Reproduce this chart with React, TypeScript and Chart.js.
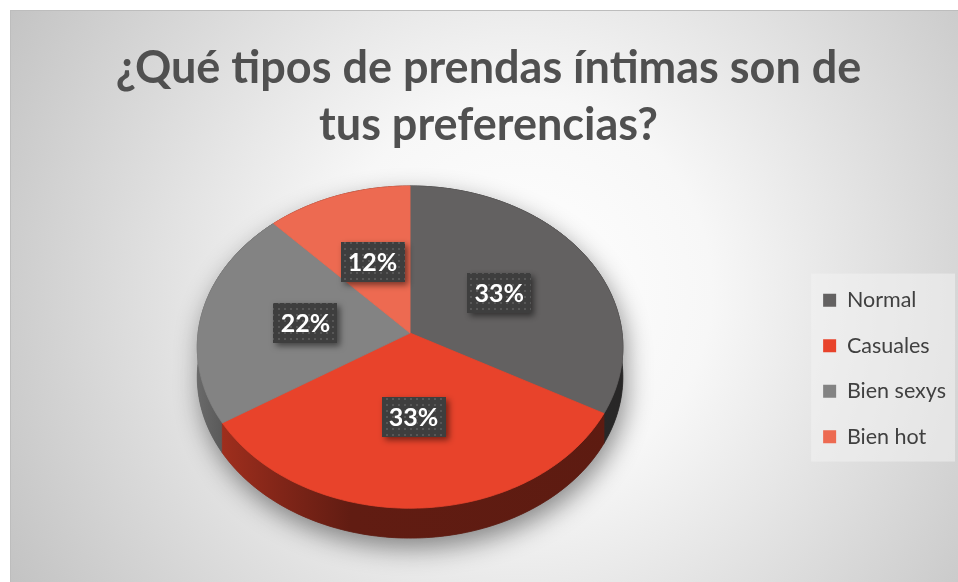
import React, { useEffect, useRef } from 'react';
import { Chart, registerables } from 'chart.js';

Chart.register(...registerables);

// ---- data ----
const categories = ['Normal', 'Casuales', 'Bien sexys', 'Bien hot'];
const values = [33, 33, 22, 12];
const sliceColors = ['#636161', '#e8432b', '#838383', '#ed6a51'];
const titleLines = ['¿Qué tipos de prendas íntimas son de', 'tus preferencias?'];

// ---- 3D look (relative to the library's computed radius) ----
const TILT = { ax: 0.993, by: 0.749, persp: 0.087, lift: 0.166, depth: 0.14 };

function hexToRgb(hex: string) {
  const h = hex.replace('#', '');
  return [parseInt(h.slice(0, 2), 16), parseInt(h.slice(2, 4), 16), parseInt(h.slice(4, 6), 16)];
}
function shade(hex: string, f: number) {
  const [r, g, b] = hexToRgb(hex);
  return `rgb(${Math.round(r * f)},${Math.round(g * f)},${Math.round(b * f)})`;
}

type Geo = { cx: number; cy: number; A: number; B: number; b: number; T: number };
function geom(arc: any): Geo {
  const R = arc.outerRadius;
  return { cx: arc.x, cy: arc.y - TILT.lift * R, A: R * TILT.ax, B: R * TILT.by, b: TILT.persp, T: R * TILT.depth };
}
function P(g: Geo, ang: number, rho = 1): [number, number] {
  const u = Math.cos(ang) * rho;
  const v = Math.sin(ang) * rho;
  const d = 1 - g.b * v;
  return [g.cx + (g.A * u) / d, g.cy + (g.B * v) / d];
}

let patternCache: CanvasPattern | null = null;
function labelPattern(ctx: CanvasRenderingContext2D) {
  if (patternCache) return patternCache;
  const c = document.createElement('canvas');
  c.width = 6;
  c.height = 6;
  const x = c.getContext('2d')!;
  x.fillStyle = '#3e3e3e';
  x.fillRect(0, 0, 6, 6);
  x.fillStyle = '#575757';
  x.fillRect(2, 2, 2, 2);
  patternCache = ctx.createPattern(c, 'repeat');
  return patternCache;
}

const pie3d = {
  id: 'pie3d',
  beforeDraw(chart: any) {
    const { ctx, width, height } = chart;
    ctx.save();
    ctx.fillStyle = '#ffffff';
    ctx.fillRect(0, 0, width, height);
    const fx = 10;
    const fy = 10;
    const grad = ctx.createRadialGradient(520, 290, 0, 520, 290, 640);
    grad.addColorStop(0, '#ffffff');
    grad.addColorStop(0.3, '#f7f7f7');
    grad.addColorStop(1, '#bcbcbc');
    ctx.fillStyle = grad;
    ctx.fillRect(fx, fy, width - fx, height - fy);
    ctx.strokeStyle = '#bdbdbd';
    ctx.lineWidth = 1;
    ctx.strokeRect(fx + 0.5, fy + 0.5, width - fx, height - fy);

    const lg = chart.legend;
    const hb = lg && lg.legendHitBoxes;
    if (hb && hb.length) {
      let right = 0;
      hb.forEach((h: any) => (right = Math.max(right, h.left + h.width)));
      const l = hb[0].left - 12;
      const t = hb[0].top - 16;
      const last = hb[hb.length - 1];
      const b = last.top + last.height + 14;
      ctx.fillStyle = 'rgba(242,242,242,0.55)';
      ctx.fillRect(l, t, Math.min(right + 9, width - 3) - l, b - t);
    }
    ctx.restore();
  },
  beforeDatasetsDraw(chart: any) {
    const meta = chart.getDatasetMeta(0);
    const arcs = meta.data;
    if (!arcs.length) return false;
    const g = geom(arcs[0]);
    const ctx: CanvasRenderingContext2D = chart.ctx;
    const N = 160;
    ctx.save();

    // soft shadow of the whole body
    ctx.beginPath();
    for (let i = 0; i <= N; i++) {
      const a = Math.PI + (Math.PI * i) / N;
      const [x, y] = P(g, a);
      if (i === 0) ctx.moveTo(x, y);
      else ctx.lineTo(x, y);
    }
    for (let i = 0; i <= N; i++) {
      const a = (Math.PI * i) / N;
      const [x, y] = P(g, a);
      ctx.lineTo(x, y + g.T);
    }
    ctx.closePath();
    ctx.shadowColor = 'rgba(0,0,0,0.45)';
    ctx.shadowBlur = 26;
    ctx.shadowOffsetX = 3;
    ctx.shadowOffsetY = 10;
    ctx.fillStyle = '#555555';
    ctx.fill();
    ctx.shadowColor = 'rgba(0,0,0,0)';
    ctx.shadowBlur = 0;
    ctx.shadowOffsetX = 0;
    ctx.shadowOffsetY = 0;

    const mid = (a: any) => (a.startAngle + a.endAngle) / 2;
    const order = arcs.map((_: any, i: number) => i).sort((i: number, j: number) => Math.sin(mid(arcs[i])) - Math.sin(mid(arcs[j])));

    // side walls
    for (const i of order) {
      const a = arcs[i];
      const col = a.options.backgroundColor as string;
      const s = a.startAngle;
      const e = a.endAngle;
      const steps = Math.max(8, Math.ceil(((e - s) / (2 * Math.PI)) * N * 2));
      const gr = ctx.createLinearGradient(g.cx - g.A, 0, g.cx + g.A, 0);
      gr.addColorStop(0, shade(col, 0.8));
      gr.addColorStop(0.06, shade(col, 0.68));
      gr.addColorStop(0.2, shade(col, 0.55));
      gr.addColorStop(0.36, shade(col, 0.42));
      gr.addColorStop(1, shade(col, 0.4));
      ctx.beginPath();
      for (let k = 0; k <= steps; k++) {
        const ang = s + ((e - s) * k) / steps;
        const [x, y] = P(g, ang);
        if (k === 0) ctx.moveTo(x, y);
        else ctx.lineTo(x, y);
      }
      for (let k = steps; k >= 0; k--) {
        const ang = s + ((e - s) * k) / steps;
        const [x, y] = P(g, ang);
        ctx.lineTo(x, y + g.T);
      }
      ctx.closePath();
      ctx.fillStyle = gr;
      ctx.fill();
      ctx.strokeStyle = gr;
      ctx.lineWidth = 0.8;
      ctx.stroke();
    }

    // top faces
    arcs.forEach((a: any) => {
      const col = a.options.backgroundColor as string;
      const s = a.startAngle;
      const e = a.endAngle;
      const steps = Math.max(8, Math.ceil(((e - s) / (2 * Math.PI)) * N * 2));
      ctx.beginPath();
      ctx.moveTo(g.cx, g.cy);
      for (let k = 0; k <= steps; k++) {
        const ang = s + ((e - s) * k) / steps;
        const [x, y] = P(g, ang);
        ctx.lineTo(x, y);
      }
      ctx.closePath();
      ctx.fillStyle = col;
      ctx.fill();
      ctx.strokeStyle = col;
      ctx.lineWidth = 0.8;
      ctx.stroke();
    });
    ctx.restore();
    return false;
  },
  afterDraw(chart: any) {
    const meta = chart.getDatasetMeta(0);
    const arcs = meta.data;
    if (!arcs.length) return;
    const g = geom(arcs[0]);
    const ctx: CanvasRenderingContext2D = chart.ctx;
    const data = chart.data.datasets[0].data as number[];
    const total = data.reduce((s, v) => s + v, 0);
    ctx.save();
    arcs.forEach((a: any, i: number) => {
      const m = (a.startAngle + a.endAngle) / 2;
      const [x, y] = P(g, m, 0.5);
      const w = 64;
      const h = 40;
      ctx.shadowColor = 'rgba(0,0,0,0.5)';
      ctx.shadowBlur = 6;
      ctx.shadowOffsetX = 3;
      ctx.shadowOffsetY = 3;
      ctx.fillStyle = labelPattern(ctx) || '#404040';
      ctx.fillRect(Math.round(x - w / 2), Math.round(y - h / 2), w, h);
      ctx.shadowColor = 'rgba(0,0,0,0)';
      ctx.shadowBlur = 0;
      ctx.shadowOffsetX = 0;
      ctx.shadowOffsetY = 0;
      ctx.fillStyle = '#ffffff';
      ctx.font = 'bold 25px Lato';
      ctx.textAlign = 'center';
      ctx.textBaseline = 'middle';
      ctx.fillText(Math.round((data[i] / total) * 100) + '%', x, y + 1);
    });
    ctx.restore();
  },
};

export default function App() {
  const ref = useRef<HTMLCanvasElement | null>(null);
  useEffect(() => {
    if (!ref.current) return;
    const chart = new Chart(ref.current, {
      type: 'pie',
      data: {
        labels: categories,
        datasets: [
          {
            data: values,
            backgroundColor: sliceColors,
            borderWidth: 0,
          },
        ],
      },
      options: {
        responsive: false,
        animation: false,
        devicePixelRatio: 1,
        layout: { padding: { left: 21, right: 2, top: 0, bottom: 0 } },
        plugins: {
          tooltip: { enabled: false },
          title: {
            display: true,
            text: titleLines,
            color: '#505050',
            font: { family: 'Lato', size: 45, weight: 'bold', lineHeight: 1.267 },
            padding: { top: 40, bottom: 1 },
          },
          legend: {
            position: 'right',
            fullSize: false,
            labels: {
              boxWidth: 13,
              boxHeight: 13,
              padding: 24,
              color: '#404040',
              font: { family: 'Lato', size: 21.5 },
            },
          },
        },
      },
      plugins: [pie3d],
    } as any);
    return () => chart.destroy();
  }, []);
  return (
    <div style={{ position: 'fixed', left: 0, top: 0, width: 958, height: 582 }}>
      <canvas ref={ref} width={958} height={582} />
    </div>
  );
}
